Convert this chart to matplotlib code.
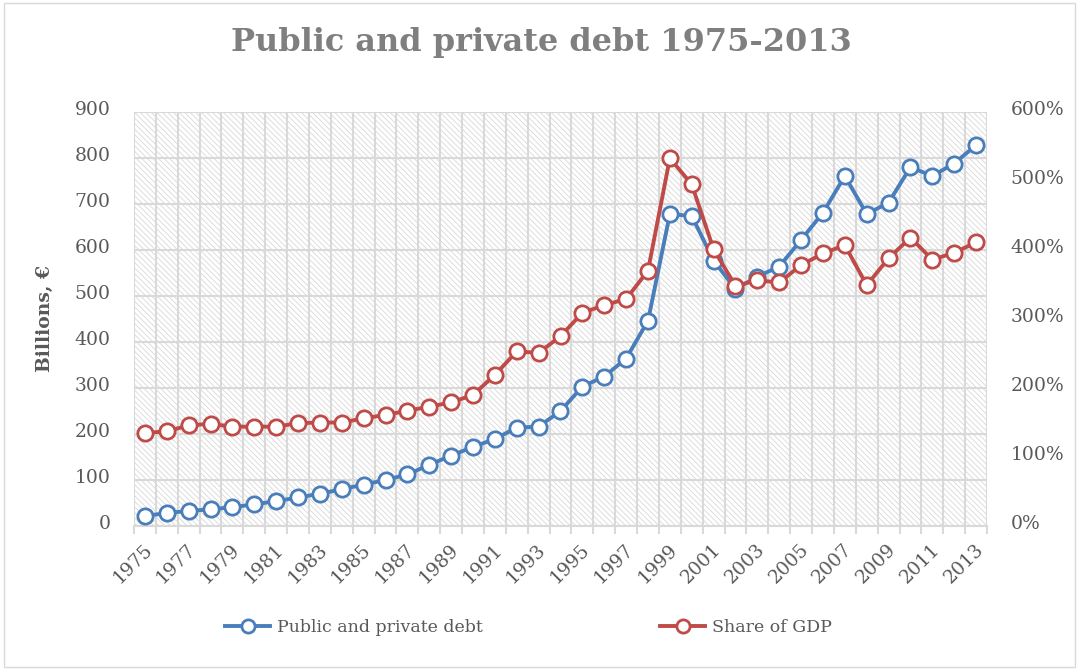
import matplotlib
matplotlib.use("Agg")
import matplotlib.pyplot as plt
import matplotlib.transforms as mtransforms
from matplotlib.patches import Rectangle
from matplotlib.ticker import FixedLocator, FuncFormatter
from matplotlib.lines import Line2D

# Data
years = list(range(1975, 2014))
debt_billions = [22, 28, 33, 36, 41, 47, 54, 62, 70, 80, 90, 100, 112,
                 133, 153, 172, 189, 214, 216, 250, 303, 325, 364, 446,
                 678, 674, 577, 515, 542, 564, 622, 681, 761, 678, 703,
                 780, 761, 788, 828]
share_gdp_pct = [135, 137, 146, 148, 144, 144, 144, 149, 150, 150, 156, 161, 167,
                 173, 179, 190, 219, 253, 251, 275, 309, 320, 329, 370,
                 533, 495, 401, 348, 356, 353, 378, 395, 407, 349, 388,
                 418, 386, 396, 411]
left_ticks = list(range(0, 1000, 100))
right_ticks = list(range(0, 700, 100))

BLUE = "#4a7ebb"
RED = "#be4b48"
GRID = "#d9d9d9"
TEXT = "#595959"
SERIF = "DejaVu Serif"

plt.rcParams["font.family"] = SERIF
plt.rcParams["hatch.linewidth"] = 0.6

W, H = 1079, 670
fig = plt.figure(figsize=(W / 100, H / 100), dpi=100)
fig.patch.set_facecolor("white")

# outer chart border
fig.add_artist(Rectangle((4 / W, 3 / H), 1 - 8 / W, 1 - 6 / H, transform=fig.transFigure,
                         fill=False, edgecolor=GRID, linewidth=1.0))

left, right, top, bottom = 134, 987, 112, 526
ax = fig.add_axes([left / W, 1 - bottom / H, (right - left) / W, (bottom - top) / H])
ax.set_facecolor("white")

# hatched plot-area fill
ax.add_patch(Rectangle((0, 0), 1, 1, transform=ax.transAxes, facecolor="white",
                       edgecolor="#d8d8d8", hatch="\\" * 6, linewidth=0, zorder=0.1))

x = list(range(len(years)))
ax.set_xlim(-0.5, len(years) - 0.5)
ax.set_ylim(0, 900)

ax.plot(x, debt_billions, color=BLUE, lw=2.8, marker="o", ms=11,
        mfc="white", mec=BLUE, mew=2.0, zorder=3, solid_capstyle="round")

ax2 = ax.twinx()
ax2.set_ylim(0, 600)
ax2.plot(x, share_gdp_pct, color=RED, lw=2.8, marker="o", ms=11,
         mfc="white", mec=RED, mew=2.0, zorder=3, solid_capstyle="round")

# grid: horizontal at every 100, vertical at category boundaries
ax.set_axisbelow(True)
ax.yaxis.set_major_locator(FixedLocator(left_ticks))
ax.grid(axis="y", which="major", color=GRID, lw=1.5)
ax.xaxis.set_major_locator(FixedLocator(x[::2]))
ax.set_xticklabels([str(y) for y in years[::2]], rotation=45, ha="right", va="top",
                   fontsize=13.5, color=TEXT)
ax.xaxis.set_minor_locator(FixedLocator([i - 0.5 for i in range(len(years) + 1)]))
ax.grid(axis="x", which="minor", color=GRID, lw=1.5)
ax.tick_params(axis="x", which="major", length=0, pad=8)
ax.tick_params(axis="x", which="minor", length=6, width=1.5, color=GRID, direction="out")

ax.set_yticklabels([str(v) for v in left_ticks])
ax.tick_params(axis="y", length=0, pad=17, labelsize=13.5, labelcolor=TEXT)

ax2.yaxis.set_major_locator(FixedLocator(right_ticks))
ax2.yaxis.set_major_formatter(FuncFormatter(lambda v, p: f"{int(v)}%"))
ax2.yaxis.set_tick_params(which="major", length=0, pad=17, labelsize=13.5, labelcolor=TEXT)

for a in (ax, ax2):
    for side in ("top", "left", "right"):
        a.spines[side].set_visible(False)
    a.spines["bottom"].set_color(GRID)
    a.spines["bottom"].set_linewidth(1.5)
ax2.spines["bottom"].set_visible(False)

# nudge tick labels
x_shift = mtransforms.ScaledTranslation(11 / 100, -3 / 100, fig.dpi_scale_trans)
for lab in ax.get_xticklabels():
    lab.set_transform(lab.get_transform() + x_shift)
y_shift = mtransforms.ScaledTranslation(0, 4 / 100, fig.dpi_scale_trans)
for lab in ax.get_yticklabels() + ax2.get_yticklabels():
    lab.set_transform(lab.get_transform() + y_shift)

# titles and labels
fig.text(541 / W, 1 - 43 / H, "Public and private debt 1975-2013", ha="center", va="center",
         fontsize=23, fontweight="bold", color="#7f7f7f")
fig.text(45 / W, 1 - 318 / H, "Billions, €", rotation=90, ha="center", va="center",
         fontsize=13.5, fontweight="bold", color=TEXT)

# legend entries
def legend_entry(xpx, color, label):
    h = Line2D([], [], color=color, lw=2.8, marker="o", ms=9.5, mfc="white", mec=color, mew=2.0)
    leg = fig.legend([h], [label], loc="center left", bbox_to_anchor=(xpx / W, 1 - 628 / H),
                     frameon=False, borderpad=0, borderaxespad=0, handlelength=2.6,
                     handletextpad=0.4, fontsize=12.5, labelcolor=TEXT)
    return leg

legend_entry(225, BLUE, "Public and private debt")
legend_entry(660, RED, "Share of GDP")

fig.savefig("out.png", dpi=100, facecolor="white")
